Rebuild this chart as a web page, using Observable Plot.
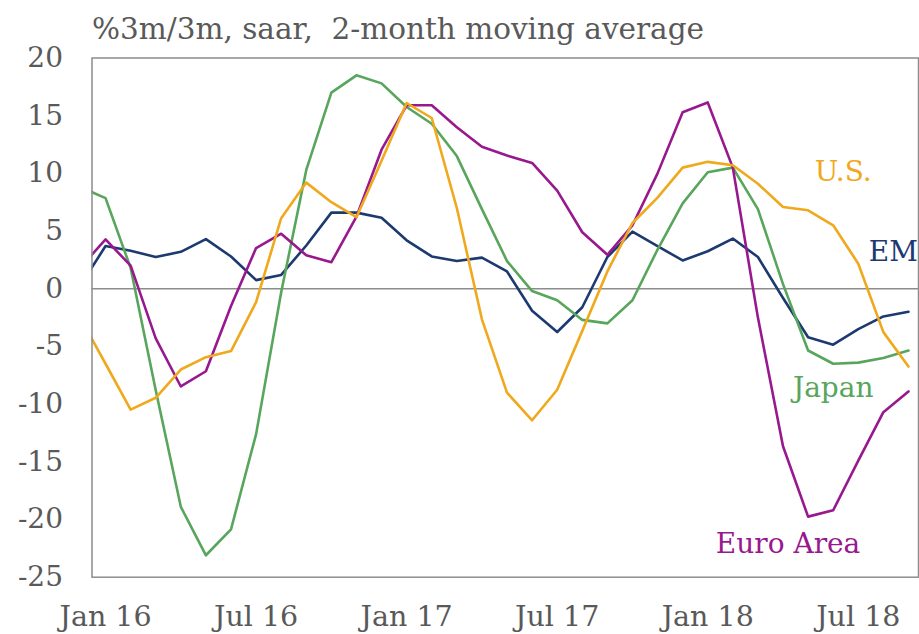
<!DOCTYPE html>
<html>
<head>
<meta charset="utf-8">
<script src="https://cdn.jsdelivr.net/npm/d3@7"></script>
<script src="https://cdn.jsdelivr.net/npm/@observablehq/plot@0.6"></script>
<style>
  html, body { margin: 0; padding: 0; background: #fff; }
  #wrap { width: 919px; height: 634px; position: relative; overflow: hidden; background: #fff; }
  #title { position: absolute; left: 92px; top: 0; height: 35px; line-height: 50px; padding-top: 4px; z-index: 2;
           font-family: "DejaVu Serif", serif; font-size: 29.5px; color: #595959; white-space: pre; }
  #chart { position: absolute; left: 0; top: 35px; z-index: 1; }
</style>
</head>
<body>
<div id="wrap">
  <div id="title">%3m/3m, saar,  2-month moving average</div>
  <div id="chart"></div>
</div>
<script>
// Months from Dec 15 (index -1) to Sep 18 (index 32)
const months = ["Dec 15","Jan 16","Feb 16","Mar 16","Apr 16","May 16","Jun 16","Jul 16","Aug 16","Sep 16","Oct 16","Nov 16","Dec 16",
  "Jan 17","Feb 17","Mar 17","Apr 17","May 17","Jun 17","Jul 17","Aug 17","Sep 17","Oct 17","Nov 17","Dec 17",
  "Jan 18","Feb 18","Mar 18","Apr 18","May 18","Jun 18","Jul 18","Aug 18","Sep 18"];

const emValues    = [0.3, 3.7, 3.3, 2.75, 3.2, 4.3, 2.8, 0.75, 1.2, 3.75, 6.6, 6.6, 6.15, 4.2, 2.8, 2.4, 2.7, 1.5, -1.9, -3.75, -1.6, 2.75, 4.95, 3.7, 2.45, 3.25, 4.35, 2.75, -0.8, -4.2, -4.85, -3.5, -2.4, -2.0];
const japanValues = [8.8, 7.86, 1.8, -8.8, -18.9, -23.1, -20.85, -12.6, -0.3, 10.3, 17.0, 18.5, 17.8, 15.75, 14.3, 11.5, 6.9, 2.4, -0.2, -1.0, -2.7, -3.0, -1.0, 3.4, 7.4, 10.1, 10.5, 6.9, 0.4, -5.35, -6.5, -6.4, -6.0, -5.35];
const euroValues  = [1.85, 4.28, 2.0, -4.3, -8.47, -7.15, -1.5, 3.53, 4.77, 2.9, 2.3, 6.25, 12.05, 15.9, 15.9, 14.0, 12.3, 11.55, 10.9, 8.5, 4.9, 2.95, 5.5, 10.0, 15.3, 16.15, 10.5, -2.5, -13.65, -19.75, -19.2, -14.9, -10.7, -8.9];
const usValues    = [-2.55, -6.5, -10.47, -9.45, -7.0, -5.93, -5.4, -1.16, 6.12, 9.2, 7.5, 6.2, 11.1, 16.1, 14.8, 7.0, -2.65, -9.0, -11.4, -8.75, -3.65, 1.5, 5.7, 7.9, 10.5, 11.0, 10.7, 9.1, 7.08, 6.8, 5.5, 2.17, -3.76, -6.74];

const seriesNames = ["EM", "Japan", "Euro Area", "U.S."];
const seriesColors = ["#1c3a70", "#58a55c", "#98188e", "#f0a81c"];

const xTickLabels = ["Jan 16", "Jul 16", "Jan 17", "Jul 17", "Jan 18", "Jul 18"];
const yTicks = [-25, -20, -15, -10, -5, 0, 5, 10, 15, 20];

// label anchors in data space: month index, value
const labelNames = ["U.S.", "EM", "Japan", "Euro Area"];
const labelMonth = [29.4, 31.4, 29.0, 27.2];
const labelValue = [10.1, 3.15, -8.6, -22.1];

const allValues = [emValues, japanValues, euroValues, usValues];
const data = [];
seriesNames.forEach((name, s) => {
  allValues[s].forEach((v, i) => data.push({name, x: i - 1, y: v}));
});
const xTickIdx = xTickLabels.map(l => months.indexOf(l) - 1);
const labels = labelNames.map((n, i) => ({name: n, x: labelMonth[i], y: labelValue[i]}));

const chart = Plot.plot({
  width: 919,
  height: 599,
  marginTop: 22.5,
  marginBottom: 57.3,
  marginLeft: 91.5,
  marginRight: 1,
  style: {fontFamily: "DejaVu Serif, serif", fontSize: "28px", color: "#595959", background: "transparent"},
  x: {domain: [-0.54, 32.4]},
  y: {domain: [-25, 20]},
  color: {domain: seriesNames, range: seriesColors},
  marks: [
    Plot.axisY({ticks: yTicks, tickFormat: d => String(d), tickSize: 0, tickPadding: 29, label: null, fontSize: 28}),
    Plot.axisX({ticks: xTickIdx, tickFormat: d => xTickLabels[xTickIdx.indexOf(d)], tickSize: 0, tickPadding: 29, label: null, fontSize: 28.5}),
    Plot.ruleY([0], {stroke: "#8c8c8c", strokeWidth: 1.5}),
    Plot.lineY(data, {x: "x", y: "y", z: "name", stroke: "name", strokeWidth: 2.6, clip: true}),
    Plot.frame({stroke: "#8c8c8c", strokeWidth: 1.5}),
    Plot.text(labels, {x: "x", y: "y", text: "name", fill: "name", fontSize: 28, lineAnchor: "middle", textAnchor: "middle"})
  ]
});
document.getElementById("chart").appendChild(chart);
</script>
</body>
</html>
